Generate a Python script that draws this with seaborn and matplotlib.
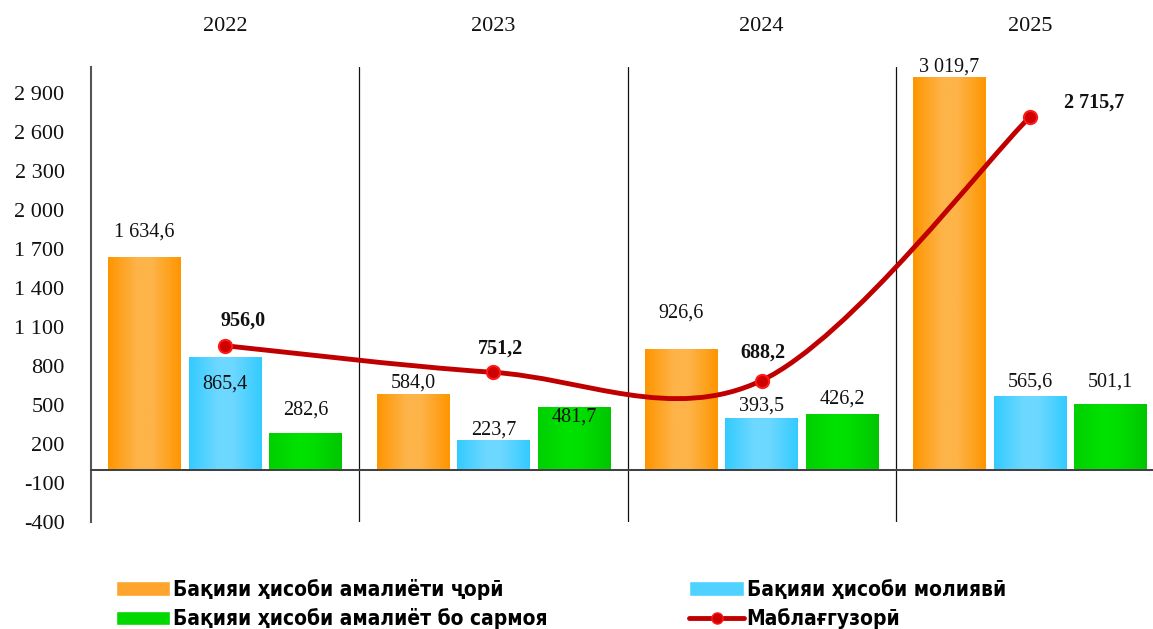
import numpy as np
import pandas as pd
import matplotlib
matplotlib.use('Agg')
import matplotlib.pyplot as plt
import seaborn as sns
from matplotlib.path import Path
from matplotlib.patches import PathPatch, Patch
from matplotlib.lines import Line2D
from matplotlib.colors import LinearSegmentedColormap
from matplotlib.ticker import FixedLocator, FuncFormatter

# --- data ---
years = ['2022', '2023', '2024', '2025']
bar_names = ['Бақияи ҳисоби амалиёти ҷорӣ',
             'Бақияи ҳисоби молиявӣ',
             'Бақияи ҳисоби амалиёт бо сармоя']
current_acc = [1634.6, 584.0, 926.6, 3019.7]
financial_acc = [865.4, 223.7, 393.5, 565.6]
capital_acc = [282.6, 481.7, 426.2, 501.1]
line_name = 'Маблағгузорӣ'
financing = [956.0, 751.2, 688.2, 2715.7]
y_ticks = [-400, -100, 200, 500, 800, 1100, 1400, 1700, 2000, 2300, 2600, 2900]

# label offsets in pixels (dy), per series / per year
bar_label_dy = [[25, 11, 36, 10],
                [-27, 11, 13, 14],
                [23, -10, 16, 23]]
line_label_off = [(18, 25), (7, 24), (1, 28), (64, 14)]

# bar gradients (edge -> centre -> edge)
grad_colors = [['#FF9500', '#FDB449', '#FDB449', '#FF9500'],
               ['#33CBFF', '#6DD8FF', '#6DD8FF', '#33CBFF'],
               ['#00CF00', '#00E200', '#00DE00', '#00C600']]
flat_colors = ['#FDA52C', '#4FD2FF', '#00D800']

serif = ['Liberation Serif', 'DejaVu Serif']


def fmt(v):
    return f'{v:,.1f}'.replace(',', ' ').replace('.', ',')


df = pd.DataFrame({
    'year': years * 3,
    'series': np.repeat(bar_names, len(years)),
    'value': current_acc + financial_acc + capital_acc,
})

sns.set_style('white')
plt.rcParams['font.family'] = serif
plt.rcParams['text.color'] = '#000000'

fig = plt.figure(figsize=(11.53, 6.29), dpi=100)
ax = fig.add_axes([91 / 1153, 107 / 629, (1164 - 91) / 1153, (522 - 67) / 629])

sns.barplot(data=df, x='year', y='value', hue='series', hue_order=bar_names,
            palette=flat_colors, width=0.9, gap=0.1, legend=False, ax=ax,
            saturation=1, zorder=2)

# replace flat fills by horizontal gradients
grad = np.linspace(0, 1, 256)[np.newaxis, :]
cmaps = [LinearSegmentedColormap.from_list(f'g{i}', list(zip([0, 0.4, 0.6, 1], c)))
         for i, c in enumerate(grad_colors)]
for i, cont in enumerate(ax.containers):
    for j, bar in enumerate(cont):
        x0, w, h = bar.get_x(), bar.get_width(), bar.get_height()
        ax.imshow(grad, extent=[x0, x0 + w, 0, h], cmap=cmaps[i], aspect='auto',
                  interpolation='bicubic', zorder=2)
        bar.set_facecolor('none')
        ax.annotate(fmt(h), (x0 + w / 2, h), xytext=(0, bar_label_dy[i][j]),
                    textcoords='offset pixels', ha='center', va='center',
                    fontsize=14.5, color='#111111')

ax.set_xlim(-0.5, 3.5)
ax.set_ylim(-400, 3100)

# smoothed line (Catmull-Rom as bezier through the points)
pts = np.column_stack([np.arange(len(financing)), financing]).astype(float)
verts = [pts[0]]
codes = [Path.MOVETO]
n = len(pts)
for i in range(n - 1):
    p0, p1 = pts[max(i - 1, 0)], pts[i]
    p2, p3 = pts[i + 1], pts[min(i + 2, n - 1)]
    verts += [p1 + (p2 - p0) / 6, p2 - (p3 - p1) / 6, p2]
    codes += [Path.CURVE4] * 3
ax.add_patch(PathPatch(Path(verts, codes), facecolor='none', edgecolor='#C00000',
                       lw=3.5, capstyle='round', zorder=4))
sns.scatterplot(x=np.arange(n), y=financing, ax=ax, s=90, color='#D00000',
                edgecolor='#FF1A1A', linewidth=1.5, zorder=5)
for k, v in enumerate(financing):
    ax.annotate(fmt(v), (k, v), xytext=line_label_off[k], textcoords='offset pixels',
                ha='center', va='center', fontsize=14.5, fontweight='bold', color='#111111')

# axes styling
for s in ['top', 'right', 'bottom']:
    ax.spines[s].set_visible(False)
ax.spines['left'].set_color('#555555')
ax.spines['left'].set_linewidth(1.5)
ax.axhline(0, color='#C8C8C8', lw=1.5, zorder=3, xmin=0, xmax=1)
ax.plot([-0.5, 3.5], [0, 0], color='#333333', lw=1.3, zorder=3,
        transform=ax.transData, clip_on=False)
for xs in [0.5, 1.5, 2.5]:
    ax.axvline(xs, color='#111111', lw=0.9, zorder=1)

ax.yaxis.set_major_locator(FixedLocator(y_ticks))
ax.yaxis.set_major_formatter(FuncFormatter(lambda v, p: f'{int(v):,}'.replace(',', ' ')))
ax.tick_params(axis='y', length=0, pad=19, labelsize=16, labelcolor='#111111')

ax.xaxis.set_ticks_position('top')
ax.set_xticks(range(len(years)))
ax.set_xticklabels(years)
ax.tick_params(axis='x', length=0, pad=22, labelsize=16, labelcolor='#111111')
ax.set_xlabel('')
ax.set_ylabel('')

# legend
handles = [Patch(facecolor=flat_colors[0]), Patch(facecolor=flat_colors[2]),
           Patch(facecolor=flat_colors[1]),
           Line2D([0], [0], color='#C00000', lw=3.5, marker='o', markersize=8,
                  markerfacecolor='#D00000', markeredgecolor='#FF1A1A')]
labels = [bar_names[0], bar_names[2], bar_names[1], line_name]
fig.legend(handles, labels, loc='upper left', bbox_to_anchor=(116 / 1153, 50 / 629),
           ncol=2, frameon=False, borderaxespad=0, borderpad=0,
           handlelength=2.6, handletextpad=0.15, columnspacing=6.8,
           labelspacing=0.4, labelcolor='#000000',
           prop={'family': 'DejaVu Sans', 'stretch': 'condensed', 'weight': 'bold', 'size': 15})

fig.savefig('out.png', dpi=100)
